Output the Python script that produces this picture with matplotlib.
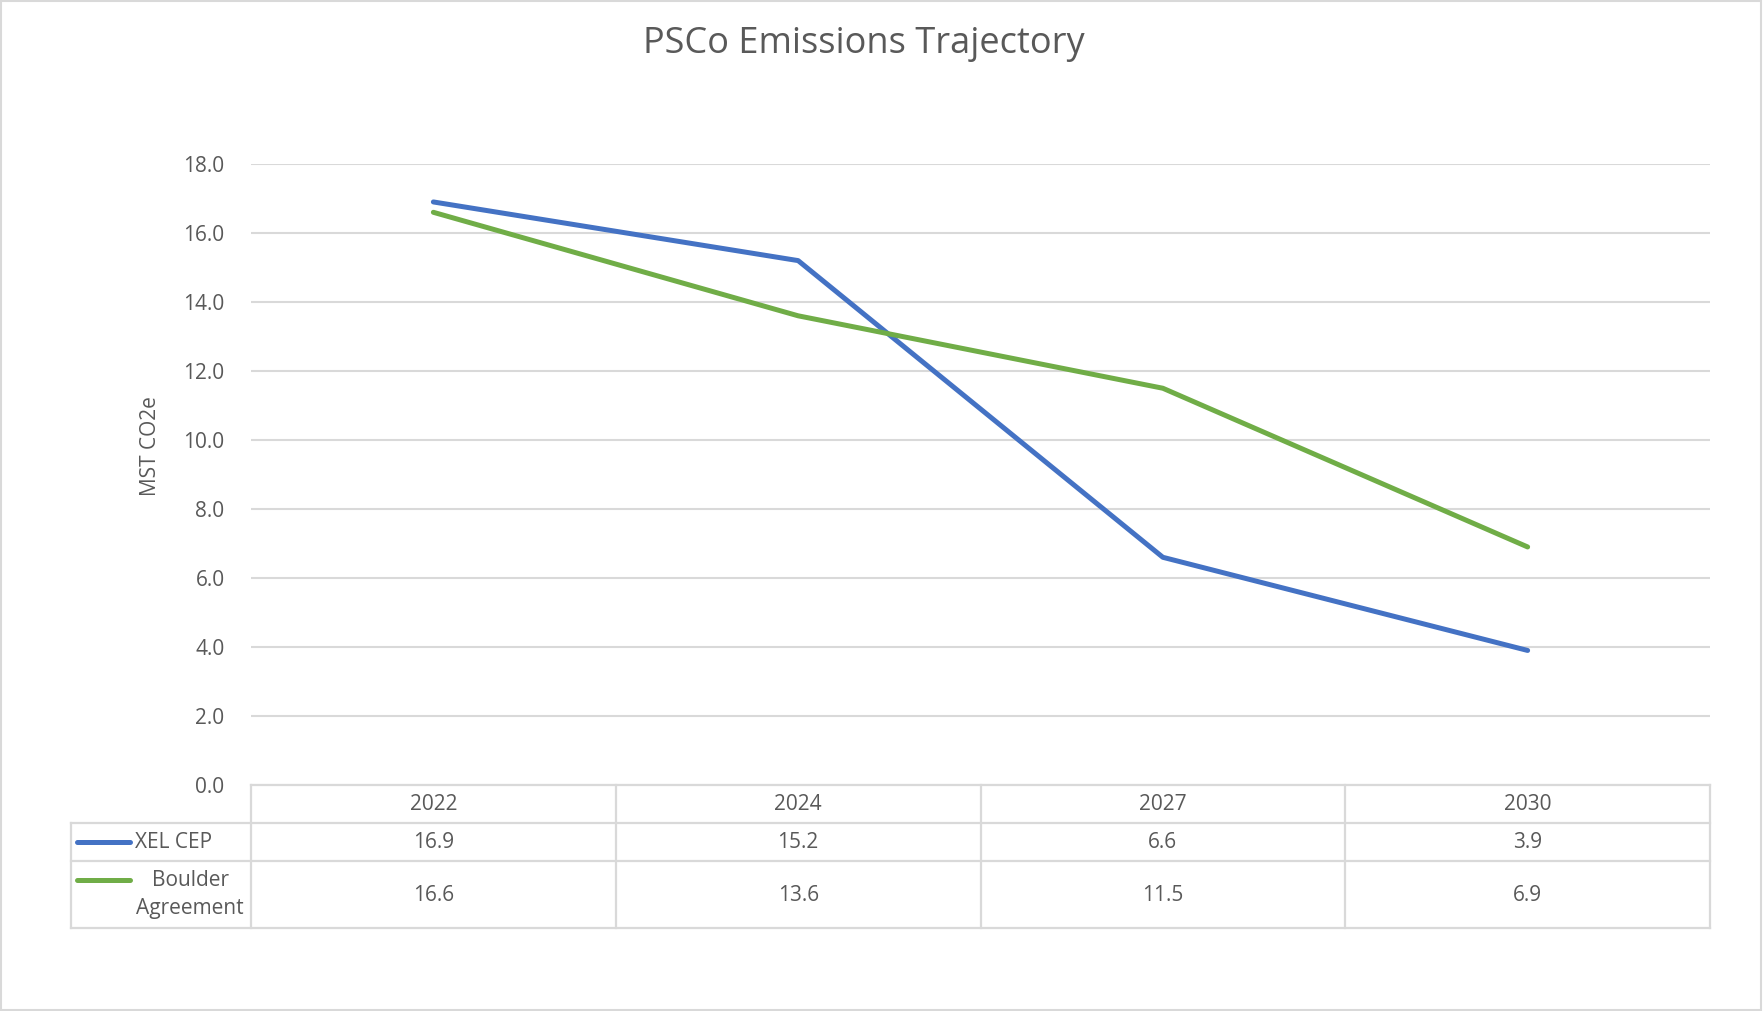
import matplotlib
matplotlib.use("Agg")
import matplotlib.pyplot as plt
from matplotlib.patches import Rectangle
from matplotlib.lines import Line2D

years = ["2022", "2024", "2027", "2030"]
xel_cep = [16.9, 15.2, 6.6, 3.9]
boulder = [16.6, 13.6, 11.5, 6.9]
series_names = ["XEL CEP", "Boulder\nAgreement"]
series_colors = ["#4472C4", "#70AD47"]
yticks = [0, 2, 4, 6, 8, 10, 12, 14, 16, 18]

plt.rcParams['font.family'] = ['Open Sans', 'DejaVu Sans']
TXT = "#595959"
GRID = "#D9D9D9"
FS = 15

W, H = 1763, 1011
fig = plt.figure(figsize=(W / 100, H / 100), dpi=100)
fig.patch.set_facecolor("white")

def fx(px):
    return px / W

def fy(py):
    return 1 - py / H

L, R, T, B = 251, 1710, 164, 785
ax = fig.add_axes([fx(L), fy(B), fx(R) - fx(L), fy(T) - fy(B)])
ax.set_xlim(-0.5, len(years) - 0.5)
ax.set_ylim(0, 18)
for s in ax.spines.values():
    s.set_visible(False)
ax.set_yticks(yticks)
ax.set_yticklabels([f"{v:.1f}" for v in yticks], color=TXT, fontsize=FS)
ax.tick_params(axis="y", length=0, pad=19)
ax.set_xticks([])
ax.grid(axis="y", color=GRID, linewidth=1.5)
ax.set_axisbelow(True)

x = list(range(len(years)))
series = [xel_cep, boulder]
for vals, c in zip(series, series_colors):
    ax.plot(x, vals, color=c, linewidth=3.6, solid_capstyle="round", solid_joinstyle="round", zorder=3)

fig.text(fx(864), fy(44), "PSCo Emissions Trajectory", ha="center", va="center",
         fontsize=26, color=TXT)
fig.text(fx(150), fy(446), "MST CO2e", rotation=90, ha="center", va="center",
         fontsize=FS, color=TXT)

# data table below the axis
colw = (R - L) / len(years)
rows_y = [785, 823, 861, 928]
tab_left = 71
lw = 1.6
def hline(y, x0, x1):
    fig.add_artist(Line2D([fx(x0), fx(x1)], [fy(y), fy(y)], color=GRID, linewidth=lw))
def vline(xp, y0, y1):
    fig.add_artist(Line2D([fx(xp), fx(xp)], [fy(y0), fy(y1)], color=GRID, linewidth=lw))

hline(rows_y[0], L, R)
for yy in rows_y[1:]:
    hline(yy, tab_left, R)
vline(tab_left, rows_y[1], rows_y[3])
for i in range(len(years) + 1):
    vline(L + i * colw, rows_y[0], rows_y[3])

for i, yr in enumerate(years):
    cx = L + (i + 0.5) * colw
    fig.text(fx(cx), fy((rows_y[0] + rows_y[1]) / 2), yr, ha="center", va="center",
             fontsize=FS, color=TXT)
    for r, vals in enumerate(series):
        cy = (rows_y[r + 1] + rows_y[r + 2]) / 2
        fig.text(fx(cx), fy(cy + 1), f"{vals[i]:.1f}", ha="center", va="center",
                 fontsize=FS, color=TXT)

for r, (name, c) in enumerate(zip(series_names, series_colors)):
    cy = (rows_y[r + 1] + rows_y[r + 2]) / 2
    ly = cy if r == 0 else rows_y[r + 1] + 19
    fig.add_artist(Line2D([fx(77), fx(130)], [fy(ly), fy(ly)], color=c, linewidth=3.6,
                          solid_capstyle="round"))
    if r == 0:
        fig.text(fx(135), fy(cy), name, ha="left", va="center", fontsize=FS, color=TXT)
    else:
        fig.text(fx(190), fy(cy), name, ha="center", va="center", fontsize=FS,
                 color=TXT, linespacing=1.4)

fig.add_artist(Rectangle((fx(1), fy(H - 1)), fx(W - 3), fy(1) - fy(H - 1), fill=False,
                         edgecolor=GRID, linewidth=1.5))

fig.savefig("out.png", dpi=100)
